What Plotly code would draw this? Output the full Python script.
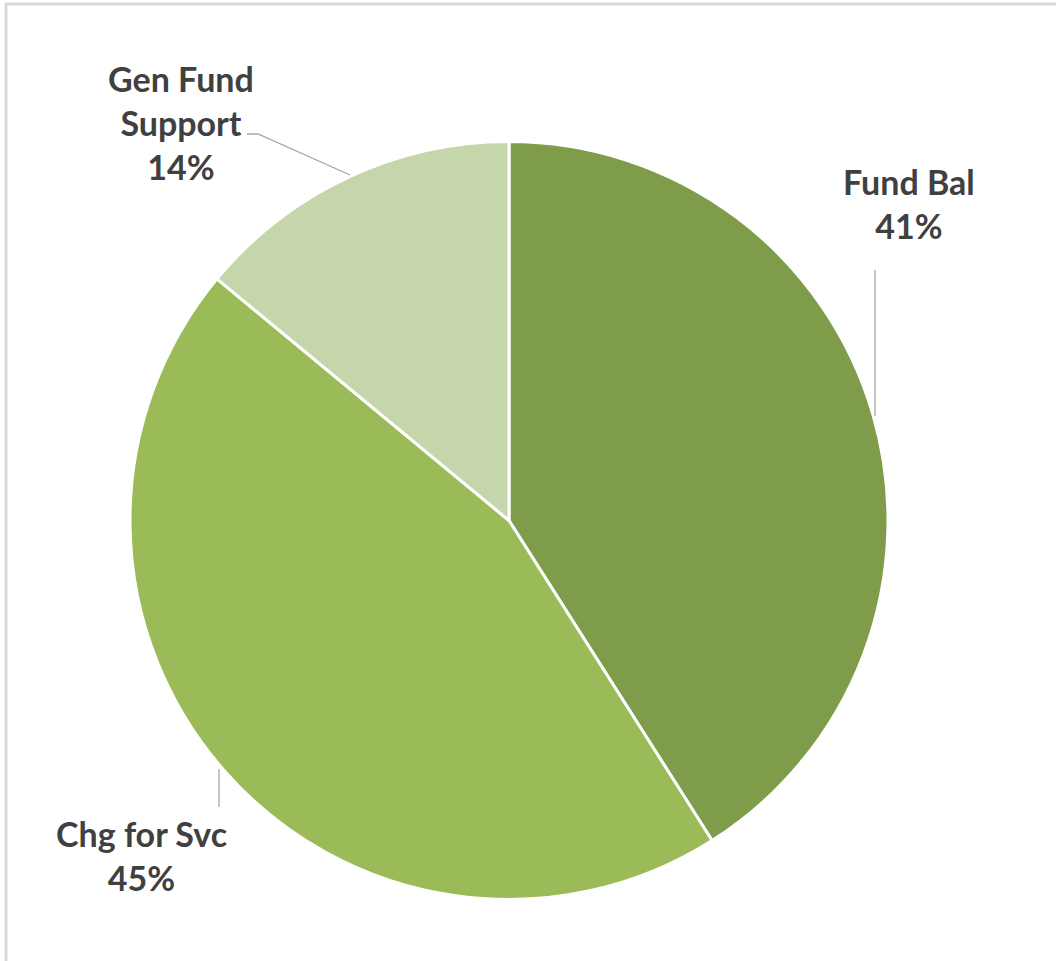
import plotly.graph_objects as go

categories = ["Fund Bal", "Chg for Svc", "Gen Fund Support"]
values = [41, 45, 14]
label_text = ["Fund Bal<br>41%", "Chg for Svc<br>45%", "Gen Fund<br>Support<br>14%"]
colors = ["#7f9c4a", "#9bbb59", "#c5d6ab"]

W, H = 1056, 961

def px(x):
    return x / W

def py(y):
    return 1 - y / H

fig = go.Figure()
fig.add_trace(go.Pie(
    labels=categories,
    values=values,
    sort=False,
    direction="clockwise",
    rotation=0,
    textinfo="none",
    hoverinfo="label+percent",
    marker=dict(colors=colors, line=dict(color="white", width=3)),
    domain=dict(x=[px(130), px(888)], y=[py(900), py(141)]),
    showlegend=False,
))

label_pos = [(909, 204), (141, 855), (181, 122)]
annotations = []
for txt, (x, y) in zip(label_text, label_pos):
    annotations.append(dict(
        x=px(x), y=py(y), xref="paper", yref="paper",
        text="<b>" + txt + "</b>", showarrow=False,
        xanchor="center", yanchor="middle",
        font=dict(family="Lato", size=34, color="#404040"),
    ))

line_style = dict(color="#a6a6a6", width=1.3)
shapes = [
    dict(type="rect", xref="paper", yref="paper",
         x0=px(6), y0=py(4), x1=px(1070), y1=py(975),
         line=dict(color="#d9d9d9", width=3), fillcolor="rgba(0,0,0,0)"),
    dict(type="line", xref="paper", yref="paper",
         x0=px(875), y0=py(270), x1=px(875), y1=py(416), line=line_style),
    dict(type="line", xref="paper", yref="paper",
         x0=px(219), y0=py(769), x1=px(219), y1=py(807), line=line_style),
    dict(type="path", xref="paper", yref="paper",
         path=f"M {px(247)},{py(134)} L {px(258)},{py(134)} L {px(350)},{py(175)}",
         line=line_style),
]

fig.update_layout(
    width=W, height=H,
    margin=dict(l=0, r=0, t=0, b=0),
    paper_bgcolor="white",
    plot_bgcolor="white",
    annotations=annotations,
    shapes=shapes,
)

fig.write_html(
    "out.html",
    config={"displayModeBar": False},
    post_script="document.body.style.margin='0';document.body.style.overflow='hidden';",
)
